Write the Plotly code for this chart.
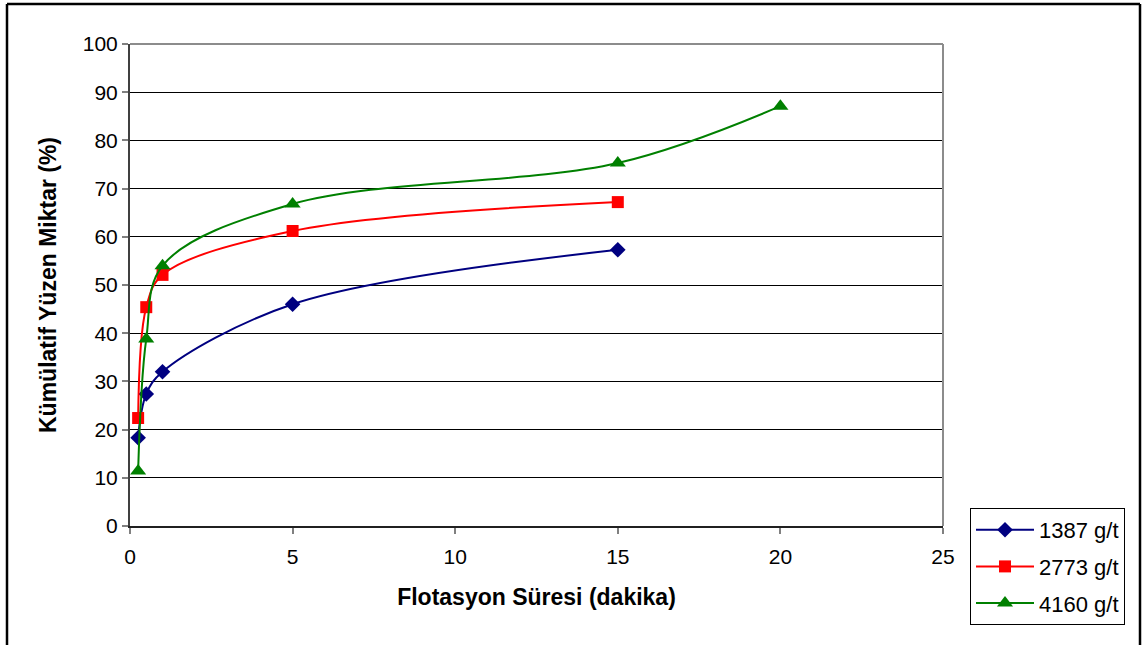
import plotly.graph_objects as go

# Flotation time (minutes) and cumulative float yield (%) per collector dosage
time_1387 = [0.25, 0.5, 1, 5, 15]
yield_1387 = [18.3, 27.4, 32.0, 46.0, 57.3]

time_2773 = [0.25, 0.5, 1, 5, 15]
yield_2773 = [22.4, 45.4, 52.1, 61.2, 67.2]

time_4160 = [0.25, 0.5, 1, 5, 15, 20]
yield_4160 = [11.4, 38.8, 54.0, 66.8, 75.3, 87.1]

series_names = ["1387 g/t", "2773 g/t", "4160 g/t"]
x_ticks = [0, 5, 10, 15, 20, 25]
y_ticks = [0, 10, 20, 30, 40, 50, 60, 70, 80, 90, 100]

FONT = "Liberation Sans, Arial, sans-serif"

styles = [
    dict(color="#000080", symbol="diamond", size=12),
    dict(color="#FF0000", symbol="square", size=12),
    dict(color="#008000", symbol="triangle-up", size=14),
]
data = [(time_1387, yield_1387), (time_2773, yield_2773), (time_4160, yield_4160)]

fig = go.Figure()
for name, (xs, ys), st in zip(series_names, data, styles):
    fig.add_trace(go.Scatter(
        x=xs, y=ys, name=name, mode="lines+markers",
        legendgroup=name,
        line=dict(color=st["color"], width=2, shape="spline", smoothing=1.0),
        marker=dict(color=st["color"], symbol=st["symbol"], size=st["size"],
                    line=dict(width=0)),
    ))

plot_l, plot_r, plot_t, plot_b = 130, 943, 44, 526
W, H = 1143, 645
pw, ph = plot_r - plot_l, plot_b - plot_t


def px_x(p):
    return (p - plot_l) / pw


def px_y(p):
    return (plot_b - p) / ph


shapes = [
    # plot-area frame (top and right)
    dict(type="line", xref="paper", yref="paper", x0=0, x1=1, y0=1, y1=1,
         line=dict(color="#8c8c8c", width=2)),
    dict(type="line", xref="paper", yref="paper", x0=1, x1=1, y0=0, y1=1,
         line=dict(color="#8c8c8c", width=2)),
    # chart-area frame
    dict(type="line", xref="paper", yref="paper", x0=px_x(7), x1=px_x(1140),
         y0=px_y(4), y1=px_y(4), line=dict(color="#000000", width=2.5)),
    dict(type="line", xref="paper", yref="paper", x0=px_x(7), x1=px_x(7),
         y0=px_y(4), y1=px_y(660), line=dict(color="#000000", width=2.5)),
    dict(type="line", xref="paper", yref="paper", x0=px_x(1140), x1=px_x(1140),
         y0=px_y(4), y1=px_y(660), line=dict(color="#000000", width=2.5)),
]

fig.update_layout(
    width=W, height=H,
    margin=dict(l=plot_l, r=W - plot_r, t=plot_t, b=H - plot_b),
    paper_bgcolor="white", plot_bgcolor="white",
    font=dict(family=FONT, color="black", size=21),
    shapes=shapes,
    showlegend=True,
    legend=dict(
        x=px_x(970), y=px_y(508), xanchor="left", yanchor="top",
        bordercolor="#000000", borderwidth=1,
        font=dict(family=FONT, size=22, color="black"),
        traceorder="grouped", tracegroupgap=5,
        itemwidth=58,
        bgcolor="white",
    ),
    xaxis=dict(
        range=[0, 25], tickvals=x_ticks, showgrid=False, zeroline=False,
        showline=True, linecolor="#202020", linewidth=2,
        ticks="outside", ticklen=6, tickcolor="#808080", tickwidth=2,
        tickfont=dict(size=21), ticklabelstandoff=5,
        title=dict(text="<b>Flotasyon Süresi (dakika)</b>",
                   font=dict(size=23), standoff=22),
    ),
    yaxis=dict(
        range=[0, 100], tickvals=y_ticks, showgrid=True,
        gridcolor="#000000", gridwidth=1, zeroline=False,
        showline=True, linecolor="#404040", linewidth=2,
        ticks="outside", ticklen=6, tickcolor="#808080", tickwidth=2,
        tickfont=dict(size=21),
        title=dict(text="<b>Kümülatif Yüzen Miktar (%)</b>",
                   font=dict(size=23), standoff=20),
    ),
)

fig.write_html("out.html")
